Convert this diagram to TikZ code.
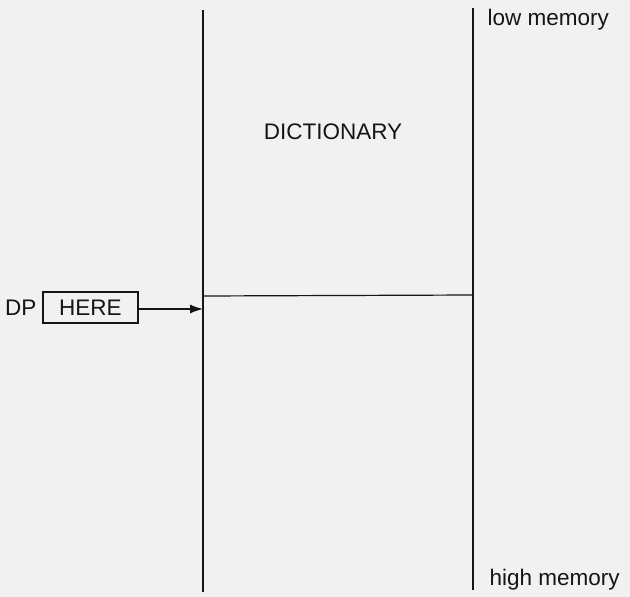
\documentclass[tikz,border=0pt]{standalone}
\usepackage{fontspec}
\setmainfont{Liberation Sans}
\usepackage{tikz}
\usetikzlibrary{arrows.meta, positioning}
\definecolor{dictbg}{HTML}{F1F1F1}
\definecolor{dictink}{HTML}{151515}

\begin{document}
\begin{tikzpicture}[x=1pt, y=-1pt, line width=1.2pt, draw=dictink,
    font=\fontsize{22.5}{26}\selectfont]
  \fill[dictbg] (0,0) rectangle (630,597);
  \useasboundingbox (0,0) rectangle (630,597);
  % memory walls
  \coordinate (wallLtop) at (203,10);
  \coordinate (wallLbot) at (203,592);
  \coordinate (wallRtop) at (473,8);
  \coordinate (wallRbot) at (473,590);
  \draw (wallLtop) -- (wallLbot);
  \draw (wallRtop) -- (wallRbot);
  % end of the dictionary
  \coordinate (dictendL) at (203,296);
  \coordinate (dictendR) at (473,295);
  \draw (dictendL) -- (dictendR);
  % labels
  \node[anchor=base west, inner sep=0pt, text=dictink] (lowmem) at (487,25) {low memory};
  \node[anchor=base west, inner sep=0pt, text=dictink] (highmem) at (489,585) {high memory};
  \node[anchor=base, inner sep=0pt, text=dictink] (dict) at (333,139) {DICTIONARY};
  % the dictionary pointer
  \node[draw, minimum width=95pt, minimum height=31pt, inner sep=0pt, text=dictink] (here) at (90.5,307.5) {HERE};
  \node[anchor=base east, inner sep=0pt, text=dictink] (dp) at (37,315) {DP};
  \coordinate (herept) at (203,309);
  \draw[-{Latex[length=13pt, width=9pt]}] (here.east |- herept) -- (herept);
\end{tikzpicture}
\end{document}
